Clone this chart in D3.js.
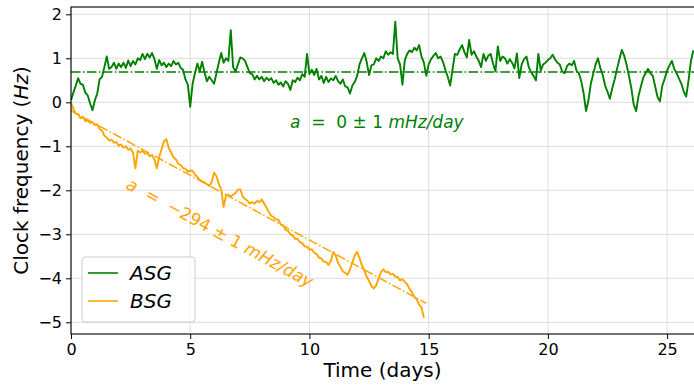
<!DOCTYPE html>
<html>
<head>
<meta charset="utf-8">
<script src="https://cdn.jsdelivr.net/npm/d3@7"></script>
<style>
  body { margin: 0; background: #fff; }
  text { font-family: "DejaVu Sans", sans-serif; }
</style>
</head>
<body>
<svg id="chart" width="694" height="386"></svg>
<script>
// series names + colours
const seriesNames = ['ASG', 'BSG']
const seriesColors = ['green', 'orange']

// both records sampled every 0.1 day, starting at t = 0
const sampleStep = 0.1

// clock frequency offset (Hz)
const asgValues = [
  0.05, 0.22, 0.38, 0.55, 0.42, 0.40, 0.22, 0.16, -0.02, -0.18,
  0.04, 0.20, 0.52, 0.58, 0.80, 1.04, 0.76, 0.80, 0.90, 0.76,
  0.88, 0.80, 0.90, 0.78, 0.95, 0.82, 0.94, 0.86, 1.00, 0.96,
  1.10, 0.98, 1.10, 1.02, 1.12, 0.98, 0.76, 0.96, 0.84, 0.90,
  0.80, 0.88, 0.82, 0.94, 0.86, 0.90, 0.78, 0.74, 0.52, 0.40,
  -0.10, 0.42, 0.66, 0.88, 0.70, 0.92, 0.68, 0.48, 0.58, 0.50,
  0.42, 0.66, 0.90, 1.12, 0.90, 1.00, 0.94, 1.64, 0.80, 0.70,
  0.86, 1.02, 1.00, 0.94, 0.80, 0.66, 0.64, 0.52, 0.60, 0.52,
  0.58, 0.48, 0.56, 0.50, 0.55, 0.44, 0.50, 0.40, 0.45, 0.36,
  0.48, 0.42, 0.28, 0.50, 0.46, 0.56, 0.50, 0.64, 0.58, 1.10,
  0.64, 0.74, 0.62, 0.76, 0.52, 0.60, 0.44, 0.58, 0.46, 0.54,
  0.50, 0.60, 0.48, 0.42, 0.52, 0.36, 0.34, 0.20, 0.38, 0.46,
  0.60, 0.86, 1.00, 1.12, 0.92, 0.62, 0.84, 0.86, 1.00, 0.94,
  1.04, 1.00, 1.16, 1.08, 1.14, 1.10, 1.83, 1.00, 0.86, 0.40,
  0.96, 1.10, 1.18, 1.14, 1.24, 1.18, 1.30, 1.04, 0.90, 0.60,
  0.86, 0.98, 1.06, 1.12, 1.00, 1.04, 0.92, 0.74, 0.58, 0.38,
  0.74, 1.10, 1.08, 1.20, 1.30, 1.14, 1.02, 1.42, 1.08, 1.16,
  1.04, 0.94, 0.80, 1.10, 0.94, 1.06, 1.10, 0.88, 0.70, 1.27,
  0.94, 1.04, 1.00, 0.88, 0.98, 0.90, 0.77, 1.11, 0.55, 0.86,
  0.98, 1.04, 0.80, 0.68, 0.60, 0.50, 1.10, 0.72, 0.86, 0.90,
  0.96, 1.00, 1.08, 0.98, 0.90, 0.86, 0.70, 0.66, 0.82, 0.88,
  0.84, 0.94, 0.72, 0.66, 0.48, 0.20, -0.20, 0.04, 0.42, 0.64,
  0.86, 1.00, 0.78, 0.62, 0.38, 0.24, 0.08, 0.32, 0.52, 0.76,
  0.98, 1.19, 1.06, 0.86, 0.60, 0.32, -0.05, -0.20, 0.14, 0.36,
  0.56, 0.66, 0.76, 0.66, 0.60, 0.36, 0.12, 0.02, 0.38, 0.54,
  0.72, 0.84, 0.94, 0.76, 0.66, 0.54, 0.42, 0.24, 0.13, 0.50,
  0.94, 1.18
]

const bsgValues = [
  -0.02, -0.15, -0.26, -0.27, -0.36, -0.33, -0.43, -0.41, -0.47, -0.45,
  -0.52, -0.50, -0.61, -0.64, -0.76, -0.80, -0.87, -0.85, -0.92, -0.90,
  -0.99, -0.96, -1.03, -1.00, -1.08, -1.05, -1.14, -1.50, -1.10, -1.14,
  -1.10, -1.17, -1.15, -1.23, -1.20, -1.30, -1.50, -1.24, -1.06, -0.88,
  -0.84, -1.04, -1.14, -1.25, -1.30, -1.40, -1.42, -1.50, -1.51, -1.58,
  -1.55, -1.56, -1.64, -1.70, -1.76, -1.80, -1.82, -1.86, -1.90, -1.82,
  -1.60, -1.68, -1.86, -1.98, -2.38, -2.12, -2.10, -2.14, -2.10, -2.06,
  -1.98, -1.98, -2.14, -2.20, -2.24, -2.30, -2.27, -2.30, -2.24, -2.27,
  -2.21, -2.30, -2.40, -2.50, -2.58, -2.62, -2.66, -2.67, -2.78, -2.80,
  -2.90, -2.92, -3.00, -3.03, -3.10, -3.10, -3.18, -3.20, -3.28, -3.28,
  -3.35, -3.34, -3.42, -3.45, -3.53, -3.55, -3.62, -3.63, -3.70, -3.60,
  -3.40, -3.48, -3.65, -3.74, -3.84, -3.88, -3.92, -3.80, -3.64, -3.48,
  -3.40, -3.54, -3.70, -3.82, -3.96, -4.06, -4.18, -4.23, -4.16, -4.00,
  -3.86, -3.80, -3.86, -3.85, -3.91, -3.90, -3.96, -3.97, -4.05, -4.02,
  -4.08, -4.14, -4.24, -4.32, -4.42, -4.48, -4.60, -4.66, -4.90
]

// linear fits: intercept (Hz), slope (Hz/day), end of fit (days)
const fitIntercepts = [0.69, -0.19]
const fitSlopes = [0, -0.294]
const fitEnds = [26.2, 14.9]
const fitLabels = ['0 \u00b1 1', '\u2212294 \u00b1 1']

const xTicks = [0, 5, 10, 15, 20, 25]
const yTicks = [-5, -4, -3, -2, -1, 0, 1, 2]

var svg = d3.select('#chart')
var pLeft = 71, pRight = 695, pTop = 7, pBottom = 334

var x = d3.scaleLinear().domain([0, 26.17]).range([pLeft, pRight])
var y = d3.scaleLinear().domain([-5.266, 2.166]).range([pBottom, pTop])

svg.append('defs').append('clipPath').attr('id', 'clip')
  .append('rect').attr('x', pLeft).attr('y', pTop)
  .attr('width', pRight - pLeft).attr('height', pBottom - pTop)

// grid
var grid = svg.append('g').attr('stroke', '#dcdcdc').attr('stroke-width', 1)
xTicks.forEach(function(t) {
  grid.append('line').attr('x1', x(t)).attr('x2', x(t)).attr('y1', pTop).attr('y2', pBottom)
})
yTicks.forEach(function(t) {
  grid.append('line').attr('x1', pLeft).attr('x2', pRight).attr('y1', y(t)).attr('y2', y(t))
})

var plot = svg.append('g').attr('clip-path', 'url(#clip)')

var line = d3.line()
  .x(function(d, i) { return x(i * sampleStep) })
  .y(function(d) { return y(d) })

var allValues = [asgValues, bsgValues]
allValues.forEach(function(vals, k) {
  plot.append('path')
    .attr('d', line(vals))
    .attr('fill', 'none')
    .attr('stroke', seriesColors[k])
    .attr('stroke-width', 1.9)
    .attr('stroke-linejoin', 'round')
})

// fit lines (dash-dot)
fitSlopes.forEach(function(s, k) {
  var x0 = 0, x1 = fitEnds[k]
  plot.append('line')
    .attr('x1', x(x0)).attr('y1', y(fitIntercepts[k] + s * x0))
    .attr('x2', x(x1)).attr('y2', y(fitIntercepts[k] + s * x1))
    .attr('stroke', seriesColors[k])
    .attr('stroke-width', 1.5)
    .attr('stroke-dasharray', '9.6,2.4,1.5,2.4')
})

// annotations
function slopeText(g, k) {
  g.attr('fill', seriesColors[k]).attr('font-size', 17).style('white-space', 'pre')
  g.append('tspan').attr('font-style', 'italic').text('a')
  g.append('tspan').text('  =  ' + fitLabels[k] + ' ')
  g.append('tspan').attr('font-style', 'italic').text('mHz/day')
}
slopeText(svg.append('text').attr('x', 290).attr('y', 128), 0)
var ang = Math.atan2(y(fitSlopes[1]) - y(0), x(1) - x(0)) * 180 / Math.PI
slopeText(svg.append('text').attr('transform', 'translate(125,188) rotate(' + ang + ')'), 1)

// axes
var xAxis = svg.append('g').attr('transform', 'translate(0,' + pBottom + ')')
  .call(d3.axisBottom(x).tickValues(xTicks).tickSize(5).tickPadding(5).tickFormat(d3.format('d')))
var yAxis = svg.append('g').attr('transform', 'translate(' + pLeft + ',0)')
  .call(d3.axisLeft(y).tickValues(yTicks).tickSize(5).tickPadding(4).tickFormat(d3.format('d')))
;[xAxis, yAxis].forEach(function(a) {
  a.select('.domain').remove()
  a.selectAll('text').attr('font-size', 16).attr('font-family', '"DejaVu Sans", sans-serif').attr('fill', '#000')
  a.selectAll('line').attr('stroke', '#000')
})

// spines
svg.append('rect').attr('x', pLeft).attr('y', pTop)
  .attr('width', pRight - pLeft).attr('height', pBottom - pTop)
  .attr('fill', 'none').attr('stroke', '#000').attr('stroke-width', 1.1)

svg.append('text').attr('x', (pLeft + 694) / 2).attr('y', 377)
  .attr('text-anchor', 'middle').attr('font-size', 20).text('Time (days)')

var yl = svg.append('text').attr('transform', 'translate(28,' + (pTop + pBottom) / 2 + ') rotate(-90)')
  .attr('text-anchor', 'middle').attr('font-size', 20)
yl.append('tspan').text('Clock frequency (')
yl.append('tspan').attr('font-style', 'italic').text('Hz')
yl.append('tspan').text(')')

// legend
var lg = svg.append('g').attr('transform', 'translate(82,257)')
lg.append('rect').attr('width', 113).attr('height', 65).attr('rx', 3)
  .attr('fill', '#fff').attr('fill-opacity', 0.8).attr('stroke', '#cccccc')
seriesNames.forEach(function(n, k) {
  var yy = 16 + k * 28
  lg.append('line').attr('x1', 6).attr('x2', 36).attr('y1', yy).attr('y2', yy)
    .attr('stroke', seriesColors[k]).attr('stroke-width', 1.6)
  lg.append('text').attr('x', 48).attr('y', yy + 7).attr('font-size', 20)
    .attr('font-style', 'italic').text(n)
})
</script>
</body>
</html>
